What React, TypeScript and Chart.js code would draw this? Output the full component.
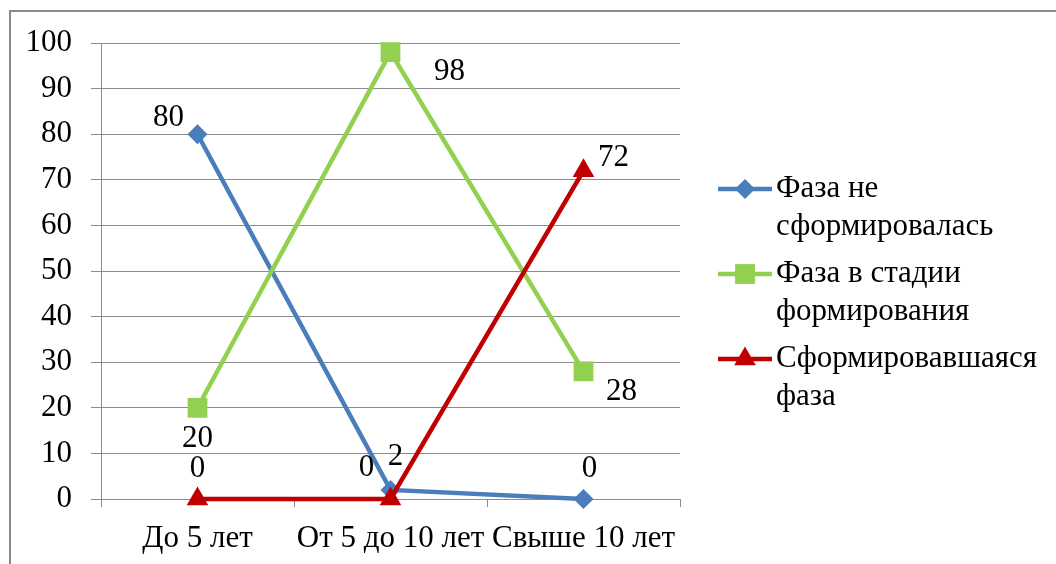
import React, { useEffect, useRef } from "react";
import { Chart, registerables } from "chart.js";

Chart.register(...registerables);

const categories = ["До 5 лет", "От 5 до 10 лет", "Свыше 10 лет"];
const seriesNames = [
  ["Фаза не", "сформировалась"],
  ["Фаза в стадии", "формирования"],
  ["Сформировавшаяся", "фаза"],
];
const notFormed = [80, 2, 0];
const forming = [20, 98, 28];
const formed = [0, 0, 72];
const yTicks = [0, 10, 20, 30, 40, 50, 60, 70, 80, 90, 100];

// label placement (style only): pixel offsets relative to each point
const LABEL_OFFSETS = [
  [[-29, -16], [5, -33], [6, -30]],
  [[0, 31], [59, 20], [38, 21]],
  [[0, -30], [-24, -31], [30, -13]],
];

const FONT = "'Liberation Serif', 'Times New Roman', serif";
const FS = 31;
const GRID = "#8c8c8c";

const labelPlugin = {
  id: "valueLabels",
  afterDatasetsDraw(chart: any) {
    const ctx = chart.ctx;
    ctx.save();
    ctx.font = `${FS}px ${FONT}`;
    ctx.fillStyle = "#000";
    ctx.textAlign = "center";
    ctx.textBaseline = "middle";
    chart.data.datasets.forEach((ds: any, di: number) => {
      const meta = chart.getDatasetMeta(di);
      meta.data.forEach((pt: any, i: number) => {
        const off = LABEL_OFFSETS[di][i];
        ctx.fillText(String(ds.data[i]), pt.x + off[0], pt.y + off[1]);
      });
    });
    ctx.restore();
  },
};

const legendPlugin = {
  id: "customLegend",
  afterDraw(chart: any) {
    const ctx = chart.ctx;
    ctx.save();
    const x0 = 718;
    const x1 = 772;
    const tx = 776;
    const lineH = 38;
    const gap = 47;
    let y = 189;
    chart.data.datasets.forEach((ds: any, di: number) => {
      ctx.strokeStyle = ds.borderColor;
      ctx.lineWidth = ds.borderWidth;
      ctx.beginPath();
      ctx.moveTo(x0, y);
      ctx.lineTo(x1, y);
      ctx.stroke();
      ctx.fillStyle = ds.pointBackgroundColor;
      const r = ds.pointRadius;
      const cx = (x0 + x1) / 2;
      ctx.beginPath();
      if (ds.pointStyle === "rectRot") {
        ctx.moveTo(cx, y - r);
        ctx.lineTo(cx + r, y);
        ctx.lineTo(cx, y + r);
        ctx.lineTo(cx - r, y);
      } else if (ds.pointStyle === "rect") {
        const s = r * Math.SQRT1_2;
        ctx.rect(cx - s, y - s, 2 * s, 2 * s);
      } else {
        ctx.moveTo(cx, y - r);
        ctx.lineTo(cx + r * 0.866, y + r * 0.5);
        ctx.lineTo(cx - r * 0.866, y + r * 0.5);
      }
      ctx.closePath();
      ctx.fill();
      ctx.font = `${FS}px ${FONT}`;
      ctx.fillStyle = "#000";
      ctx.textAlign = "left";
      ctx.textBaseline = "middle";
      const lines = seriesNames[di];
      lines.forEach((ln: string, li: number) => {
        ctx.fillText(ln, tx, y + li * lineH);
      });
      y += (lines.length - 1) * lineH + gap;
    });
    ctx.restore();
  },
};

export default function App() {
  const ref = useRef<HTMLCanvasElement>(null);
  useEffect(() => {
    if (!ref.current) return;
    Chart.defaults.font.family = FONT;
    const mk = (label: string, data: number[], color: string, style: string, r: number, order: number) => ({
      label,
      data,
      borderColor: color,
      backgroundColor: color,
      pointBackgroundColor: color,
      pointBorderColor: color,
      pointBorderWidth: 0,
      borderWidth: 4.5,
      pointStyle: style,
      pointRadius: r,
      pointHoverRadius: r,
      tension: 0,
      clip: false,
      order,
    });
    const chart = new Chart(ref.current, {
      type: "line",
      data: {
        labels: categories,
        datasets: [
          mk(seriesNames[0].join(" "), notFormed, "#4A7EBB", "rectRot", 10, 3),
          mk(seriesNames[1].join(" "), forming, "#92D050", "rect", 14, 2),
          mk(seriesNames[2].join(" "), formed, "#C00000", "triangle", 12.5, 1),
        ] as any,
      },
      options: {
        animation: false,
        responsive: false,
        devicePixelRatio: 1,
        layout: { padding: { left: 0, top: 43, right: 376, bottom: 0 } },
        plugins: { legend: { display: false }, tooltip: { enabled: false } },
        scales: {
          x: {
            offset: true,
            grid: {
              offset: true,
              drawOnChartArea: false,
              drawTicks: true,
              tickLength: 8,
              color: GRID,
              lineWidth: 1,
            },
            border: { display: true, color: GRID, width: 1 },
            ticks: { color: "#000", font: { size: FS, family: FONT }, padding: 13, maxRotation: 0, autoSkip: false },
            afterFit: (s: any) => {
              s.height = 65;
            },
          },
          y: {
            min: 0,
            max: 100,
            afterBuildTicks: (s: any) => {
              s.ticks = yTicks.map((v) => ({ value: v }));
            },
            grid: { color: GRID, lineWidth: 1, drawTicks: true, tickLength: 10 },
            border: { display: true, color: GRID, width: 1 },
            ticks: { color: "#000", font: { size: FS, family: FONT }, padding: 19 },
            afterFit: (s: any) => {
              s.width = 101;
            },
          },
        },
      },
      plugins: [labelPlugin, legendPlugin],
    });
    return () => chart.destroy();
  }, []);
  return (
    <div style={{ position: "fixed", left: 0, top: 0, width: 1056, height: 564, overflow: "hidden", background: "#fff" }}>
      <div
        style={{
          position: "absolute",
          left: 9,
          top: 10,
          width: 1100,
          height: 600,
          border: "2px solid #8a8a8a",
          boxShadow: "2px 2px 2px rgba(0,0,0,0.15)",
        }}
      />
      <canvas ref={ref} width={1056} height={564} style={{ position: "absolute", left: 0, top: 0, width: 1056, height: 564 }} />
    </div>
  );
}
